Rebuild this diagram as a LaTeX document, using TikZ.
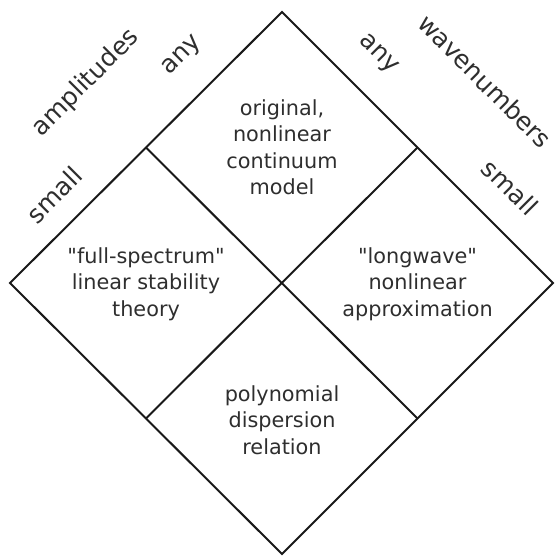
\documentclass[tikz,border=0pt]{standalone}
\usepackage{fontspec}
\newfontfamily\dejavu{DejaVu Sans}
\usetikzlibrary{calc}
\begin{document}
\begin{tikzpicture}[x=1pt,y=-1pt,
  edge/.style={draw=black!90, line width=2pt, line join=miter},
  txt/.style={text=black!82, align=center, inner sep=0pt, font=\dejavu\fontsize{20.8}{26.5}\selectfont},
  lbl/.style={text=black!82, inner sep=0pt, font=\dejavu\fontsize{25}{29}\selectfont}]
\useasboundingbox (0,0) rectangle (554,556);
\coordinate (T) at (282,12);
\coordinate (L) at (10,283);
\coordinate (R) at (553,283);
\coordinate (B) at (282,554);
\coordinate (C) at (282,283);
\coordinate (TL) at ($(T)!0.5!(L)$);
\coordinate (TR) at ($(T)!0.5!(R)$);
\coordinate (BL) at ($(B)!0.5!(L)$);
\coordinate (BR) at ($(B)!0.5!(R)$);
\draw[edge] (T) -- (R) -- (B) -- (L) -- cycle;
\draw[edge] (TL) -- (BR);
\draw[edge] (TR) -- (BL);
\node[txt] (top) at (282,147) {original,\\nonlinear\\continuum\\model};
\node[txt] (left) at (146,284) {"full-spectrum"\\linear stability\\theory};
\node[txt] (right) at (417.5,284) {"longwave"\\nonlinear\\approximation};
\node[txt] (bottom) at (282,420) {polynomial\\dispersion\\relation};
\node[lbl, rotate=45] (lany) at (183,56) {any};
\node[lbl, rotate=45] (lsmall) at (54,195) {small};
\node[lbl, rotate=45] (amp) at (86,83) {amplitudes};
\node[lbl, rotate=-45] (rany) at (378,55) {any};
\node[lbl, rotate=-45] (rsmall) at (510,187) {small};
\node[lbl, rotate=-45] (wave) at (485,81) {wavenumbers};
\end{tikzpicture}
\end{document}
